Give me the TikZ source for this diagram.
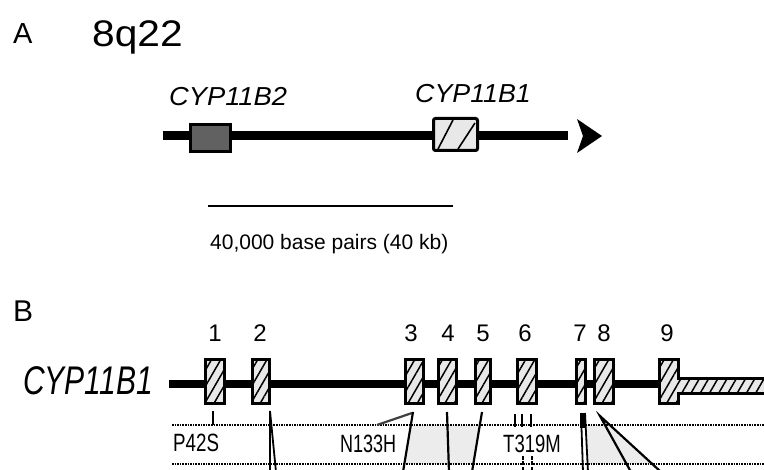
\documentclass[tikz,border=0pt]{standalone}
\usepackage{fontspec}
\usepackage{graphicx}
\setmainfont{Liberation Sans}
\usetikzlibrary{patterns.meta}
\begin{document}
\begin{tikzpicture}[x=1pt,y=-1pt,
  lbl/.style={inner sep=0pt, anchor=base west},
  num/.style={inner sep=0pt, anchor=base, font=\fontsize{24}{24}\selectfont},
  hatch/.style={preaction={fill=gray!18}, pattern={Lines[angle=60,distance=8pt,line width=1.5pt]}},
  exon/.style={draw, line width=3.4pt, minimum height=44pt, inner sep=0pt, hatch},
  conn/.style={line width=2.2pt},
  dotline/.style={line width=2pt, dash pattern=on 1.6pt off 1pt},
  small/.style={lbl, font=\fontsize{25}{25}\selectfont},
]
\useasboundingbox[fill=white] (0,0) rectangle (764,470);

% ---------------- Panel A ----------------
\node[lbl, font=\fontsize{29}{29}\selectfont] (lA) at (13,44) {A};
\node[lbl, font=\fontsize{37}{37}\selectfont] (chr) at (92,47) {\scalebox{1.1}[1]{8q22}};
\node[lbl, font=\itshape\fontsize{26}{26}\selectfont] (n2) at (169,106) {\scalebox{1.05}[1]{CYP11B2}};
\node[lbl, font=\itshape\fontsize{26}{26}\selectfont] (n1) at (415,103) {\scalebox{1.03}[1]{CYP11B1}};

\coordinate (cs) at (163,136);
\coordinate (ce) at (568,136);
\draw[line width=9pt] (cs) -- (ce);
\fill (577,119) -- (602,136) -- (577,153) -- (583,136) -- cycle;

\node[draw, line width=3pt, fill=black!62, minimum width=40pt, minimum height=27pt, inner sep=0pt] (b2) at (210.5,138) {};
\node[draw, line width=3pt, fill=gray!18, rounded corners=2pt, minimum width=44pt, minimum height=32pt, inner sep=0pt] (b1) at (455.5,134.5) {};
\draw[line width=1.6pt] (438,149) -- (453,120);
\draw[line width=1.6pt] (458,149) -- (475,123);

\coordinate (s1) at (208,206);
\coordinate (s2) at (453,206);
\draw[line width=2.5pt] (s1) -- (s2);
\node[lbl, font=\fontsize{21}{21}\selectfont] (scl) at (210,250) {40,000 base pairs (40 kb)};

% ---------------- Panel B ----------------
\node[lbl, font=\fontsize{30}{30}\selectfont] (lB) at (13,322) {B};
\node[lbl, font=\itshape\fontsize{40}{40}\selectfont] (gname) at (23,395) {\scalebox{0.75}[1]{CYP11B1}};

% light grey bands
\fill[gray!15] (410.8,425) -- (479.8,425) -- (473,464) -- (404,464) -- cycle;
\fill[gray!15] (585.6,425) -- (610.7,425) -- (652.6,464) -- (587.7,464) -- cycle;

% gene line
\coordinate (g0) at (169,384);
\coordinate (g1) at (660,384);
\draw[line width=8pt] (g0) -- (g1);

\node[exon, minimum width=19pt] (e1) at (215,381.5) {};
\node[exon, minimum width=17pt] (e2) at (261,381.5) {};
\node[exon, minimum width=18pt] (e3) at (414.5,381.5) {};
\node[exon, minimum width=18pt] (e4) at (447.5,381.5) {};
\node[exon, minimum width=15pt] (e5) at (483,381.5) {};
\node[exon, minimum width=19pt] (e6) at (527,381.5) {};
\node[exon, minimum width=9pt] (e7) at (581,381.5) {};
\node[exon, minimum width=19pt] (e8) at (604,381.5) {};
\draw[line width=3.4pt, hatch] (659.5,359.5) -- (678.5,359.5) -- (678.5,378.5) -- (775,378.5)
  -- (775,393.5) -- (678.5,393.5) -- (678.5,403.5) -- (659.5,403.5) -- cycle;

\node[num] (k1) at (215,342) {1};
\node[num] (k2) at (260,342) {2};
\node[num] (k3) at (411,342) {3};
\node[num] (k4) at (448,342) {4};
\node[num] (k5) at (483,342) {5};
\node[num] (k6) at (525,342) {6};
\node[num] (k7) at (580,342) {7};
\node[num] (k8) at (604,342) {8};
\node[num] (k9) at (667,342) {9};

% dotted lines
\draw[dotline] (172,425) -- (764,425);
\draw[dotline] (172,464) -- (764,464);

% mutation labels
\node[small] (m1) at (173,452) {\scalebox{0.75}[1]{P42S}};
\node[small] (m2) at (340,453) {\scalebox{0.72}[1]{N133H}};
\node[small] (m3) at (503,453) {\scalebox{0.74}[1]{T319M}};

% connectors
\coordinate (t1a) at (213,411); \coordinate (t1b) at (213,425);
\draw[conn] (t1a) -- (t1b);
\coordinate (t2a) at (270,411); \coordinate (t2b) at (270,472); \coordinate (t2c) at (276,472);
\draw[line width=1.8pt] (t2b) -- (t2a) -- (t2c);
\coordinate (nA) at (377,425); \coordinate (nB) at (412,413);
\draw[conn, black!75] (nA) -- (nB);
\coordinate (t3a) at (413,412); \coordinate (t3b) at (403,472);
\draw[conn] (t3a) -- (t3b);
\coordinate (t4a) at (447,412); \coordinate (t4b) at (449,472);
\draw[conn] (t4a) -- (t4b);
\coordinate (t5a) at (482,412); \coordinate (t5b) at (472,472);
\draw[conn] (t5a) -- (t5b);
\foreach \xx in {515,522,531}{\draw[conn] (\xx,414) -- (\xx,427);}
\foreach \xx in {523,532}{\draw[line width=2pt, dash pattern=on 4pt off 1.5pt] (\xx,456) -- (\xx,472);}
\coordinate (t7a) at (582,413); \coordinate (t7b) at (582,428);
\draw[line width=5pt] (t7a) -- (t7b);
\draw[line width=1.8pt] (581,413) -- (583,472);
\draw[line width=1.8pt] (585,413) -- (588,472);
\coordinate (t8a) at (600,416); \coordinate (t8b) at (631,472); \coordinate (t8c) at (661,472);
\draw[conn] (t8b) -- (t8a) -- (t8c);
\end{tikzpicture}
\end{document}
